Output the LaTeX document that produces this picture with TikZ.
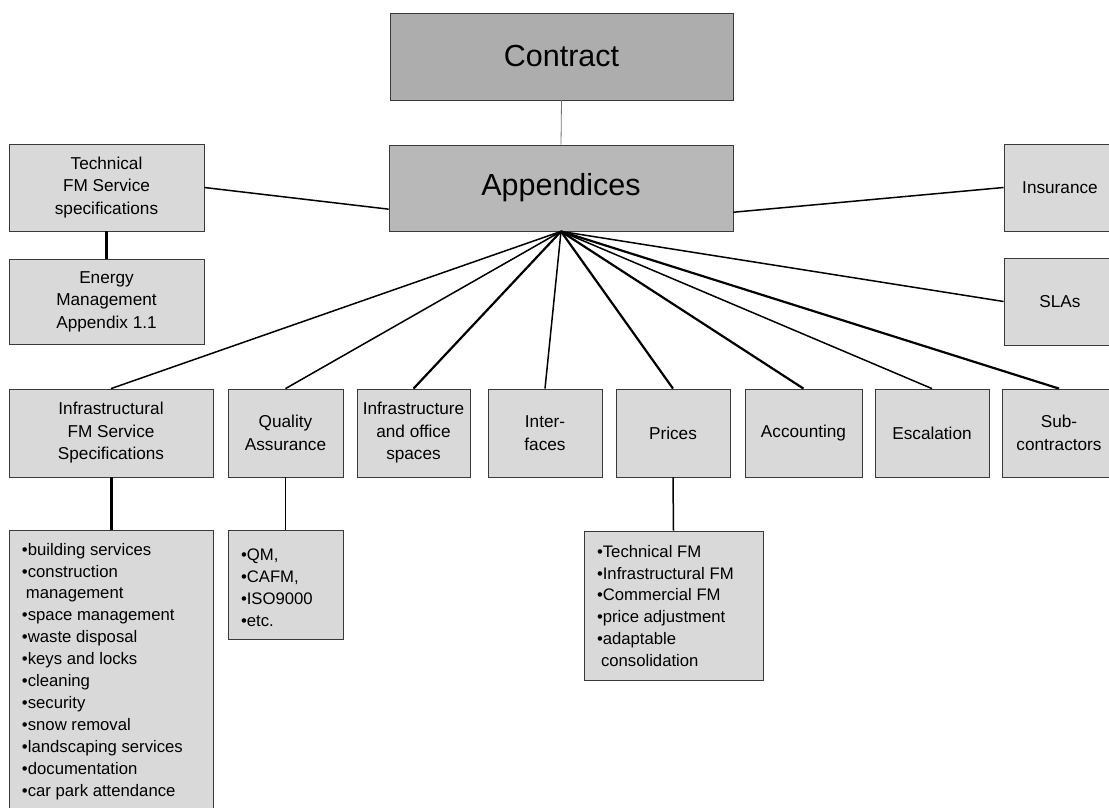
\documentclass[tikz,border=0pt]{standalone}
\usepackage{fontspec}
\setmainfont{Liberation Sans}
\usetikzlibrary{shadows}

\definecolor{boxgray}{HTML}{D9D9D9}
\definecolor{topgray}{HTML}{ADADAD}
\definecolor{midgray}{HTML}{B8B8B8}
\definecolor{edgegray}{HTML}{3A3A3A}

\tikzset{
	box/.style={draw=edgegray, line width=0.8pt, fill=boxgray, inner sep=0pt, align=center,
		font=\fontsize{17.2}{22.5}\selectfont,
		drop shadow={shadow xshift=1.2pt, shadow yshift=-1.2pt, fill=black!30, opacity=1}},
	bigbox/.style={box, font=\fontsize{30.5}{32}\selectfont},
	listbox/.style={box, font=\fontsize{16.7}{21.9}\selectfont},
	spoke/.style={line width=1.5pt},
	thickspoke/.style={line width=2.2pt},
	stem/.style={line width=3pt},
	thinstem/.style={line width=1.5pt}
}
% height, width, top skip, lines
\newcommand{\listtext}[4]{\parbox[c][#1][t]{#2}{\raggedright\leftskip=13pt\relax\vspace*{#3}#4}}

\begin{document}
\begin{tikzpicture}[x=1pt, y=-1pt]
			%%%%% START %%%%%
			\useasboundingbox (0,0) rectangle (1109,808);
			
			\node[bigbox, fill=topgray, minimum width=343pt, minimum height=87pt] (contract) at (561.5,56.5) {Contract};
			\node[bigbox, fill=midgray, minimum width=344pt, minimum height=86pt] (appendices) at (561,188) {Appendices};
			
			\node[box, minimum width=195pt, minimum height=87pt] (techspec) at (106.5,187.5) {Technical\\FM Service\\specifications};
			\node[box, minimum width=195pt, minimum height=85pt] (energy) at (106.5,301.5) {Energy\\Management\\Appendix 1.1};
			
			\node[box, minimum width=112pt, minimum height=87pt] (insurance) at (1060,187.5) {Insurance};
			\node[box, minimum width=112pt, minimum height=87pt] (slas) at (1060,301.5) {SLAs};
			
			% row of appendices
			\node[box, minimum width=204pt, minimum height=88pt] (infra) at (111,433) {Infrastructural\\FM Service\\Specifications};
			\node[box, minimum width=115pt, minimum height=88pt] (quality) at (285.5,433) {Quality\\Assurance};
			\node[box, minimum width=113pt, minimum height=88pt] (office) at (413.5,433) {Infrastructure\\and office\\spaces};
			\node[box, minimum width=114pt, minimum height=88pt] (interfaces) at (545,433) {Inter-\\faces};
			\node[box, minimum width=114pt, minimum height=88pt] (prices) at (673,433) {Prices};
			\node[box, minimum width=117pt, minimum height=88pt] (accounting) at (803.5,433) {Accounting};
			\node[box, minimum width=114pt, minimum height=88pt] (escalation) at (932,433) {Escalation};
			\node[box, minimum width=114pt, minimum height=88pt] (subcontr) at (1059,433) {Sub-\\contractors};
			
			% lists
			\node[listbox] (infralist) at (111,680) {\listtext{300pt}{204pt}{13pt}{%
				•building services\\
				•construction\\
				\hspace*{4pt}management\\
				•space management\\
				•waste disposal\\
				•keys and locks\\
				•cleaning\\
				•security\\
				•snow removal\\
				•landscaping services\\
				•documentation\\
				•car park attendance}};
			\node[listbox] (qualitylist) at (285.5,584.5) {\listtext{109pt}{115pt}{19pt}{%
				•QM,\\
				•CAFM,\\
				•ISO9000\\
				•etc.}};
			\node[listbox] (priceslist) at (673.5,605.5) {\listtext{149pt}{179pt}{14pt}{%
				•Technical FM\\
				•Infrastructural FM\\
				•Commercial FM\\
				•price adjustment\\
				•adaptable\\
				\hspace*{4pt}consolidation}};
			
			% connectors
			\draw[line width=0.8pt, color=black!55] (contract.south) -- (appendices.north);
			\draw[spoke] (techspec.east) -- (appendices.187.6);
			\draw[spoke] (appendices.-8.9) -- (insurance.west);
			\draw[spoke] (appendices.south) -- (slas.west);
			
			\draw[spoke] (appendices.south) -- (infra.north);
			\draw[spoke] (appendices.south) -- (quality.north);
			\draw[thickspoke] (appendices.south) -- (office.north);
			\draw[spoke] (appendices.south) -- (interfaces.north);
			\draw[thickspoke] (appendices.south) -- (prices.north);
			\draw[thickspoke] (appendices.south) -- (accounting.north);
			\draw[spoke] (appendices.south) -- (escalation.north);
			\draw[thickspoke] (appendices.south) -- (subcontr.north);
			
			\draw[stem] (techspec.south) -- (energy.north);
			\draw[stem] (infra.south) -- (infralist.north);
			\draw[thinstem] (quality.south) -- (qualitylist.north);
			\draw[thinstem] (prices.south) -- (priceslist.north);
			%%%%% END %%%%%
\end{tikzpicture}
\end{document}
